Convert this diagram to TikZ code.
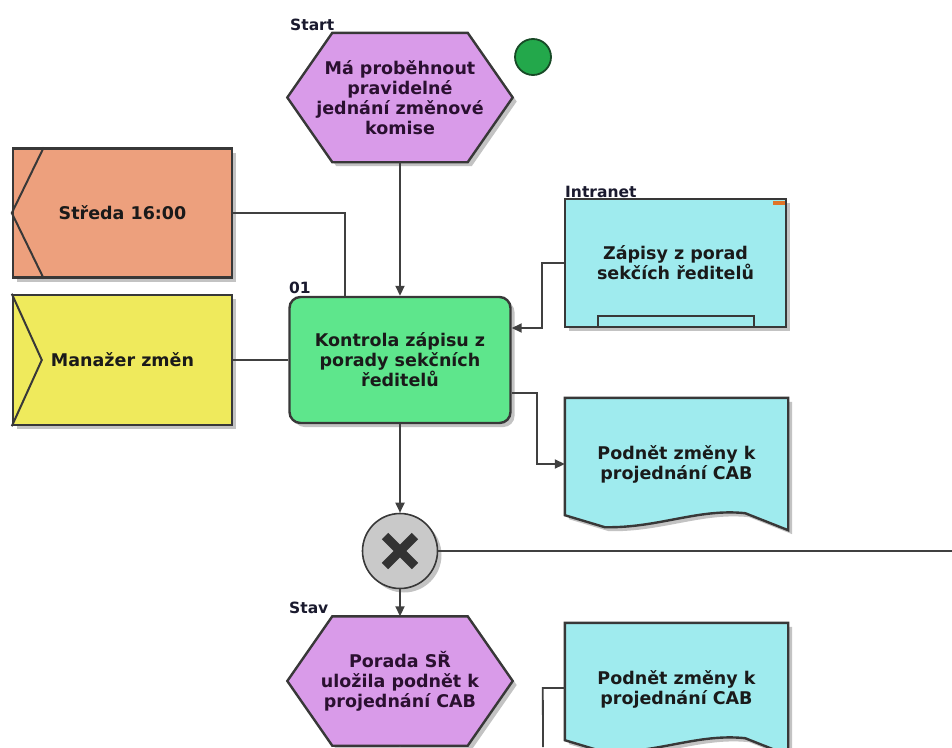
\documentclass[tikz,border=0pt]{standalone}
\usepackage{fontspec}
\setmainfont{DejaVu Sans}
\usetikzlibrary{arrows.meta,calc,backgrounds,shadows}

\definecolor{evfill}{HTML}{D99BE9}
\definecolor{fnfill}{HTML}{5EE68C}
\definecolor{orgfill}{HTML}{EDA07D}
\definecolor{rolefill}{HTML}{EFEA5C}
\definecolor{docfill}{HTML}{9FEBEE}
\definecolor{xorfill}{HTML}{C9C9C9}
\definecolor{startdot}{HTML}{23A84B}
\definecolor{dotrim}{HTML}{174A26}
\definecolor{frame}{HTML}{383838}
\definecolor{conn}{HTML}{404040}
\definecolor{ink}{HTML}{1A1A1A}
\definecolor{evink}{HTML}{2A1030}
\definecolor{lblink}{HTML}{1A1A2E}
\definecolor{shade}{HTML}{B4B4B4}
\definecolor{flag}{HTML}{E07528}

\tikzset{
  edge/.style={draw=conn, line width=1.8pt},
  arr/.style={edge, -{Triangle[length=10pt,width=9pt]}},
  txt/.style={font=\bfseries\fontsize{17.5}{20}\selectfont, align=center, text=ink},
  lbl/.style={font=\bfseries\fontsize{15.5}{17}\selectfont, text=lblink, anchor=base west, inner sep=0pt},
  outline/.style={draw=frame, line width=2.4pt},
  softshadow/.style={drop shadow={shadow xshift=4pt, shadow yshift=-4pt, fill=shade, opacity=0.8}},
  holder/.style={rectangle, inner sep=0pt, txt},
  event/.style={holder, minimum width=225pt, minimum height=129pt, text=evink},
  evshape/.style={outline, fill=evfill, softshadow},
  docshape/.style={outline, fill=docfill, softshadow},
  plainbox/.style={rectangle, inner sep=0pt, outline, softshadow, txt},
}

\begin{document}
\begin{tikzpicture}[x=1pt, y=-1pt]
\useasboundingbox (0,0) rectangle (952,747);

% ---- events (hexagons) ----
\node[event] (e1) at (400,97.5) {Má proběhnout\\pravidelné\\jednání změnové\\komise};
\node[event] (e2) at (400,681) {Porada SŘ\\uložila podnět k\\projednání CAB};

\begin{scope}[on background layer]
  \foreach \n in {e1,e2}
    \draw[evshape] (\n.west) -- ([xshift=45pt]\n.north west) -- ([xshift=-45pt]\n.north east)
      -- (\n.east) -- ([xshift=-45pt]\n.south east) -- ([xshift=45pt]\n.south west) -- cycle;
\end{scope}

\node[circle, minimum size=36pt, inner sep=0pt, fill=startdot, draw=dotrim, line width=1.8pt] (dot) at (533,57) {};

% ---- organisational unit and role ----
\node[plainbox, fill=orgfill, minimum width=219pt, minimum height=129pt] (org) at (122.5,213) {Středa 16:00};
\draw[edge, draw=frame, line width=2pt] ($(org.north west)+(32,0)$) -- (org.west) -- ($(org.south west)+(32,0)$);

\node[plainbox, fill=rolefill, minimum width=219pt, minimum height=130pt] (role) at (122.5,360) {Manažer změn};
\draw[edge, draw=frame, line width=2pt] (role.north west) -- ($(role.west)+(30,0)$) -- (role.south west);

% ---- function ----
\node[plainbox, fill=fnfill, rounded corners=11pt, minimum width=221pt, minimum height=126pt] (fn) at (400,360)
  {Kontrola zápisu z\\porady sekčních\\ředitelů};

% ---- information carrier ----
\node[plainbox, fill=docfill, minimum width=221pt, minimum height=128pt] (intra) at (675.5,263)
  {Zápisy z porad\\sekčích ředitelů};
\draw[outline, line width=2pt] ([xshift=34pt]intra.south west) -- ++(0,-12) -| ([xshift=-33pt]intra.south east);
\fill[flag] ($(intra.north east)+(-14,3)$) rectangle ++(12,4);

% ---- documents ----
\node[holder, minimum width=223pt, minimum height=132pt] (d1) at (676.5,464) {Podnět změny k\\projednání CAB};
\node[holder, minimum width=223pt, minimum height=132pt] (d2) at (676.5,689) {Podnět změny k\\projednání CAB};
\begin{scope}[on background layer]
  \foreach \n in {d1,d2}
    \draw[docshape] (\n.north west) -- (\n.north east) -- (\n.south east)
      -- ($(\n.south east)+(-43,-17)$)
      .. controls ($(\n.south east)+(-90,-22)$) and ($(\n.south east)+(-130,-2)$) .. ($(\n.south west)+(40,-3)$)
      -- ($(\n.south west)+(0,-15)$) -- cycle;
\end{scope}

% ---- XOR connector ----
\node[circle, minimum size=75pt, inner sep=0pt, fill=xorfill, draw=frame, line width=1.6pt, softshadow] (xor) at (400,551) {};
\draw[line width=9pt, draw=black!80] ($(xor.center)+(-15,-15)$) -- ($(xor.center)+(15,15)$)
  ($(xor.center)+(15,-15)$) -- ($(xor.center)+(-15,15)$);

% ---- labels ----
\node[lbl] (lstart) at (290,30) {Start};
\node[lbl] (l01) at (289,293) {01};
\node[lbl] (lintra) at (565,197) {Intranet};
\node[lbl] (lstav) at (289,613) {Stav};

% ---- free ends ----
\coordinate (xorout) at (952,551);
\coordinate (e2out) at (400,747);
\coordinate (d2out) at (543,747);

% ---- connectors ----
\draw[arr] (e1.south) -- (fn.north);
\draw[edge] (org.east) -| ([xshift=-55pt]fn.north);
\draw[edge] (role.east) -- (fn.west);
\draw[arr] (intra.west) -- ++(-22,0) |- ([yshift=32pt]fn.east);
\draw[arr] ([yshift=-33pt]fn.east) -- ++(25,0) |- (d1.west);
\draw[arr] (fn.south) -- (xor.north);
\draw[edge] (xor.east) -- (xorout);
\draw[arr] (xor.south) -- (e2.north);
\draw[edge] (e2.south) -- (e2out);
\draw[edge] ([yshift=1pt]d2.west) -- ++(-22,0) -- (d2out);
\end{tikzpicture}
\end{document}
